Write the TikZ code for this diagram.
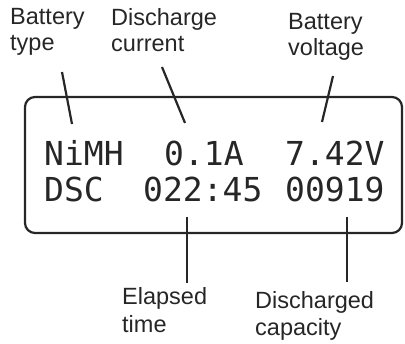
\documentclass[tikz,border=0pt]{standalone}
\usepackage{fontspec}
\setmainfont{Liberation Sans}
\newfontfamily\lcdfont{DejaVu Sans Mono}
\usetikzlibrary{positioning}
\begin{document}
\begin{tikzpicture}[x=1pt,y=-1pt,
        callout/.style={anchor=north west,inner sep=0pt,align=left,text=black!85,font=\fontsize{23.5}{26}\selectfont},
        lcdtext/.style={anchor=base west,inner sep=0pt,text=black!85,font=\lcdfont\fontsize{33}{33}\selectfont},
        leader/.style={line width=2.2pt,black!85}]
        \useasboundingbox (0,0) rectangle (405,344);
        \node[draw=black!85,line width=2.2pt,rounded corners=10pt,minimum width=377pt,minimum height=136pt] (lcd) at (213.5,165) {};
        \node[lcdtext] (type) at (44,166) {NiMH};
        \node[lcdtext] (curr) at (164,166) {0.1A};
        \node[lcdtext] (volt) at (285,166) {7.42V};
        \node[lcdtext] (mode) at (44,202) {DSC};
        \node[lcdtext] (time) at (143,202) {022:45};
        \node[lcdtext] (cap) at (285,202) {00919};
        \node[callout] (typelbl) at (10,8) {Battery\\type};
        \node[callout] (currlbl) at (111,8) {Discharge\\current};
        \node[callout] (voltlbl) at (288,13) {Battery\\voltage};
        \node[callout,font=\fontsize{23.5}{28}\selectfont] (timelbl) at (122,287) {Elapsed\\time};
        \node[callout,font=\fontsize{23.5}{27.5}\selectfont] (caplbl) at (255,291) {Discharged\\capacity};
        \coordinate (typeA) at (62,72);
        \coordinate (typeB) at (72,124);
        \coordinate (currA) at (162,67);
        \coordinate (currB) at (185,123);
        \coordinate (voltA) at (333,76);
        \coordinate (voltB) at (322,122);
        \coordinate (timeA) at (187,217);
        \coordinate (timeB) at (187,283);
        \coordinate (capA) at (347,217);
        \coordinate (capB) at (347,282);
        \draw[leader] (typeA) -- (typeB);
        \draw[leader] (currA) -- (currB);
        \draw[leader] (voltA) -- (voltB);
        \draw[leader] (timeA) -- (timeB);
        \draw[leader] (capA) -- (capB);
\end{tikzpicture}
\end{document}
